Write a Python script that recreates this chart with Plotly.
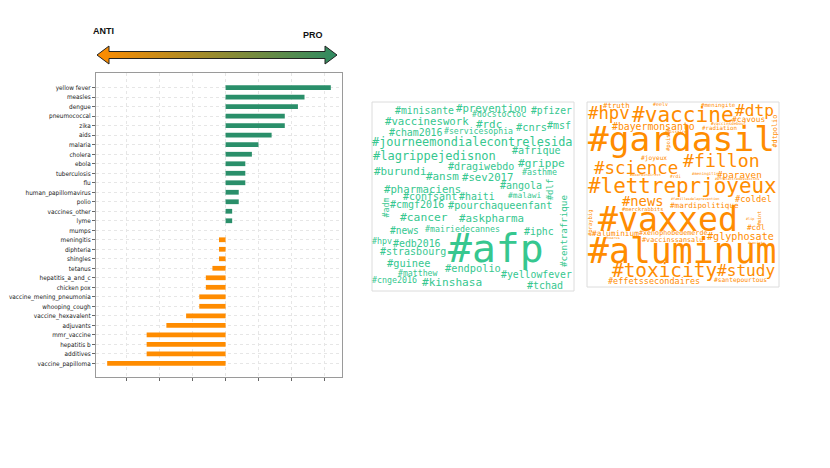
import plotly.graph_objects as go

W, H = 830, 468
PAD = 8  # page body margin around the figure

# bar chart data (bottom -> top)
categories = [
    "vaccine_papilloma", "additives", "hepatitis b", "mmr_vaccine", "adjuvants",
    "vaccine_hexavalent", "whooping_cough", "vaccine_mening_pneumonia", "chicken pox",
    "hepatitis_a_and_c", "tetanus", "shingles", "diphteria", "meningitis", "mumps",
    "lyme", "vaccines_other", "polio", "human_papillomavirus", "flu", "tuberculosis",
    "ebola", "cholera", "malaria", "aids", "zika", "pneumococcal", "dengue",
    "measles", "yellow fever",
]
scores = [-18, -12, -12, -12, -9, -6, -4, -4, -3, -3, -2, -1, -1, -1, 0,
          1, 1, 2, 2, 3, 3, 3, 4, 5, 7, 9, 9, 11, 12, 16]

# word clouds: words
pro_words = [
    "#minisante", "#prevention", "#docstoctoc", "#pfizer", "#vaccineswork", "#rdc",
    "#cnrs", "#msf", "#cham2016", "#servicesophia", "#journeemondialecontrelesida",
    "#afrique", "#lagrippejedisnon", "#grippe", "#burundi", "#dragiwebdo", "#ansm",
    "#sev2017", "#asthme", "#pharmaciens", "#angola", "#dlf", "#confsant", "#haiti",
    "#malawi", "#adm", "#cmgf2016", "#pourchaqueenfant", "#centrafrique", "#cancer",
    "#askpharma", "#news", "#mairiedecannes", "#iphc", "#hpv", "#edb2016", "#afp",
    "#strasbourg", "#guinee", "#endpolio", "#yellowfever", "#matthew", "#cnge2016",
    "#kinshasa", "#tchad",
]
anti_words = [
    "#truth", "#eelv", "#meningite", "#hpv", "#vaccine", "#dtp", "#bayermonsanto",
    "#cavous", "#vaccinsdebout", "#dtpolio", "#radiation", "#dissaire", "#poison",
    "#gardasil", "#joyeux", "#fillon", "#science", "#paraven", "#rdi", "#meningitis",
    "#boardindirect", "#efficacitedesvaccins", "#lettreprjoyeux", "#news",
    "#famillesdelaprevention", "#mardipolitique", "#coldel", "#praybig",
    "#merckrabbits", "#vaxxed", "#mint", "#lip", "#col", "#aluminium",
    "#xenophobedemerde", "#glyphosate", "#hoarus", "#vaccinssansalu", "#societe",
    "#aluminum", "#toxicity", "#study", "#effetssecondaires", "#santepourtous",
]

# word cloud placement (pixel x, pixel y, font size, angle)
pro_layout = [
    (424.6, 110.7, 9.8, 0), (491.2, 108.3, 10.7, 0), (498.7, 114.3, 8.2, 0),
    (551.2, 110.7, 9.7, 0), (427, 121, 10.7, 0), (489.2, 124, 10.9, 0),
    (531.2, 127, 10.3, 0), (558.7, 125.7, 10, 0), (415.8, 132.7, 9.9, 0),
    (478.3, 131, 8.2, 0), (472.3, 141.7, 11.9, 0), (536.7, 150, 10.1, 0),
    (434.7, 156, 12, 0), (541.7, 163.3, 11.1, 0), (399.7, 171, 10.9, 0),
    (480.8, 166.3, 10, 0), (443, 176.3, 10.9, 0), (487.5, 177, 10.7, 0),
    (539.2, 172, 8.3, 0), (422.5, 189, 10.7, 0), (521.2, 185.7, 10, 0),
    (550.3, 189, 9, -90), (430.3, 196, 10, 0), (477.2, 196, 9.9, 0),
    (525, 195.7, 7.9, 0), (385.5, 208, 8.3, -90), (417.2, 204.3, 10, 0),
    (500, 206, 10.2, 0), (563, 231, 9.2, -90), (423.8, 217.7, 11.3, 0),
    (491.7, 218.3, 10.8, 0), (404.5, 230.7, 9.6, 0), (462.5, 229, 8.3, 0),
    (539.2, 231, 9.9, 0), (382.3, 240.7, 8.3, 0), (417.2, 243.3, 9.9, 0),
    (495.5, 248, 39.7, 0), (412.5, 251.7, 10, 0), (408.3, 263.3, 10.3, 0),
    (473, 267.7, 10.3, 0), (536.3, 274, 9.8, 0), (418, 273.3, 8.2, 0),
    (394.8, 280, 8.3, 0), (452.3, 282.3, 11.1, 0), (545.3, 285, 10, 0),
]
anti_layout = [
    (616, 105, 7.4, 0), (660.3, 104.3, 5, 0), (718.8, 105.7, 5.7, 0),
    (609.2, 113.3, 17.3, 0), (682.5, 114.3, 21.1, 0), (754.5, 110, 16.2, 0),
    (653.7, 126.7, 9.8, 0), (748.3, 119.3, 7.9, 0), (729.2, 123.3, 4.2, 0),
    (774.5, 131, 6.8, -90), (719.2, 128.3, 5.8, 0), (676, 131, 4, 0),
    (668, 140, 5.5, -90), (681.7, 138.5, 34.5, 0), (654.2, 157.7, 6.2, 0),
    (721.7, 160, 18.2, 0), (636.2, 167.7, 17.5, 0), (739.2, 174.3, 9.3, 0),
    (675, 176.7, 4.5, 0), (705.5, 173.7, 4, 0), (645, 175, 3.7, 0),
    (736.7, 179.3, 3.5, 0), (682.5, 185.5, 20.9, 0), (642.5, 200.7, 13.8, 0),
    (695, 199, 3.5, 0), (704.2, 205, 7.6, 0), (753.3, 199, 8.7, 0),
    (590.5, 222.5, 5.5, -90), (642.5, 209, 5.3, 0), (668.3, 219, 33.2, 0),
    (759.5, 218.5, 5, -90), (750.3, 219, 3.5, 0), (755.8, 227.7, 7.6, 0),
    (615, 233.3, 7.8, 0), (672.5, 233.3, 6.7, 0), (740, 236, 10.1, 0),
    (612.5, 238.3, 3.5, 0), (672.5, 240, 6.8, 0), (756.3, 243.3, 3.5, 0),
    (682.5, 251, 34.8, 0), (664.2, 270, 19.4, 0), (745.8, 270.7, 16.1, 0),
    (654.2, 280.7, 8.5, 0), (740, 280, 6.3, 0),
]

PRO_BAR = "#2a8f6a"
ANTI_BAR = "#ff8c00"
PRO_CLOUD = "#36c78f"
ANTI_CLOUD = "#ff8c00"
MONO = "DejaVu Sans Mono, monospace"

FW, FH = W - PAD, H - PAD


def px(x):
    return (x - PAD) / FW


def py(y):
    return 1 - (y - PAD) / FH


fig = go.Figure()

fig.add_trace(go.Bar(
    x=scores,
    y=categories,
    orientation="h",
    width=0.5,
    marker=dict(color=[PRO_BAR if v > 0 else ANTI_BAR for v in scores], line=dict(width=0)),
    showlegend=False,
))

# ANTI <-> PRO gradient arrow, drawn in a pixel-space overlay
arrow_x = [97, 109, 109, 325, 325, 337, 325, 325, 109, 109, 97]
arrow_y = [55, 46, 51.5, 51.5, 46, 55, 64, 58.5, 58.5, 64, 55]
fig.add_trace(go.Scatter(
    x=arrow_x, y=arrow_y, xaxis="x2", yaxis="y2",
    mode="lines", fill="toself",
    line=dict(color="#222", width=1),
    fillgradient=dict(type="horizontal", colorscale=[[0, "#ff8c00"], [1, "#2e8b62"]]),
    hoverinfo="skip", showlegend=False,
))

label_font = dict(family="Liberation Sans, Arial", size=9, color="#111")
annotations = [
    dict(text="<b>ANTI</b>", x=px(103), y=py(31), xref="paper", yref="paper",
         xanchor="center", yanchor="middle", showarrow=False, font=label_font),
    dict(text="<b>PRO</b>", x=px(313), y=py(35), xref="paper", yref="paper",
         xanchor="center", yanchor="middle", showarrow=False, font=label_font),
]
for words, lay, color in ((pro_words, pro_layout, PRO_CLOUD), (anti_words, anti_layout, ANTI_CLOUD)):
    for w, (x, y, s, a) in zip(words, lay):
        annotations.append(dict(
            text=w, x=px(x), y=py(y), xref="paper", yref="paper",
            xanchor="center", yanchor="middle", showarrow=False, textangle=a,
            font=dict(family=MONO, size=s, color=color),
        ))

shapes = [
    dict(type="rect", xref="paper", yref="paper", x0=px(372), x1=px(574), y0=py(291), y1=py(102),
         line=dict(color="#dcdcdc", width=1)),
    dict(type="rect", xref="paper", yref="paper", x0=px(587), x1=px(779), y0=py(287), y1=py(102),
         line=dict(color="#dcdcdc", width=1)),
]

fig.update_layout(
    width=FW, height=FH,
    margin=dict(l=0, r=0, t=0, b=0),
    paper_bgcolor="white",
    plot_bgcolor="rgba(0,0,0,0)",
    annotations=annotations,
    shapes=shapes,
    xaxis=dict(
        domain=[px(96), px(342)], range=[-19.7, 17.7],
        tickvals=[-15, -10, -5, 0, 5, 10, 15], showticklabels=False,
        ticks="outside", ticklen=3, tickcolor="#666",
        showgrid=True, gridcolor="#e6e6e6", griddash="dot", gridwidth=1,
        zeroline=False, showline=True, mirror=True, linecolor="#9a9a9a", linewidth=1,
    ),
    yaxis=dict(
        domain=[py(377), py(73)], type="category",
        categoryorder="array", categoryarray=categories, range=[-1.44, 30.55],
        ticks="outside", ticklen=3, tickcolor="#666",
        tickfont=dict(family="DejaVu Sans Condensed, Liberation Sans Narrow, sans-serif", size=6.4, color="#222"),
        showgrid=True, gridcolor="#e6e6e6", griddash="dot", gridwidth=1,
        zeroline=False, showline=True, mirror=True, linecolor="#9a9a9a", linewidth=1,
    ),
    xaxis2=dict(domain=[0, 1], range=[PAD, W], visible=False, anchor="y2", fixedrange=True),
    yaxis2=dict(domain=[0, 1], range=[H, PAD], visible=False, anchor="x2", fixedrange=True),
)

fig.write_html("out.html")
